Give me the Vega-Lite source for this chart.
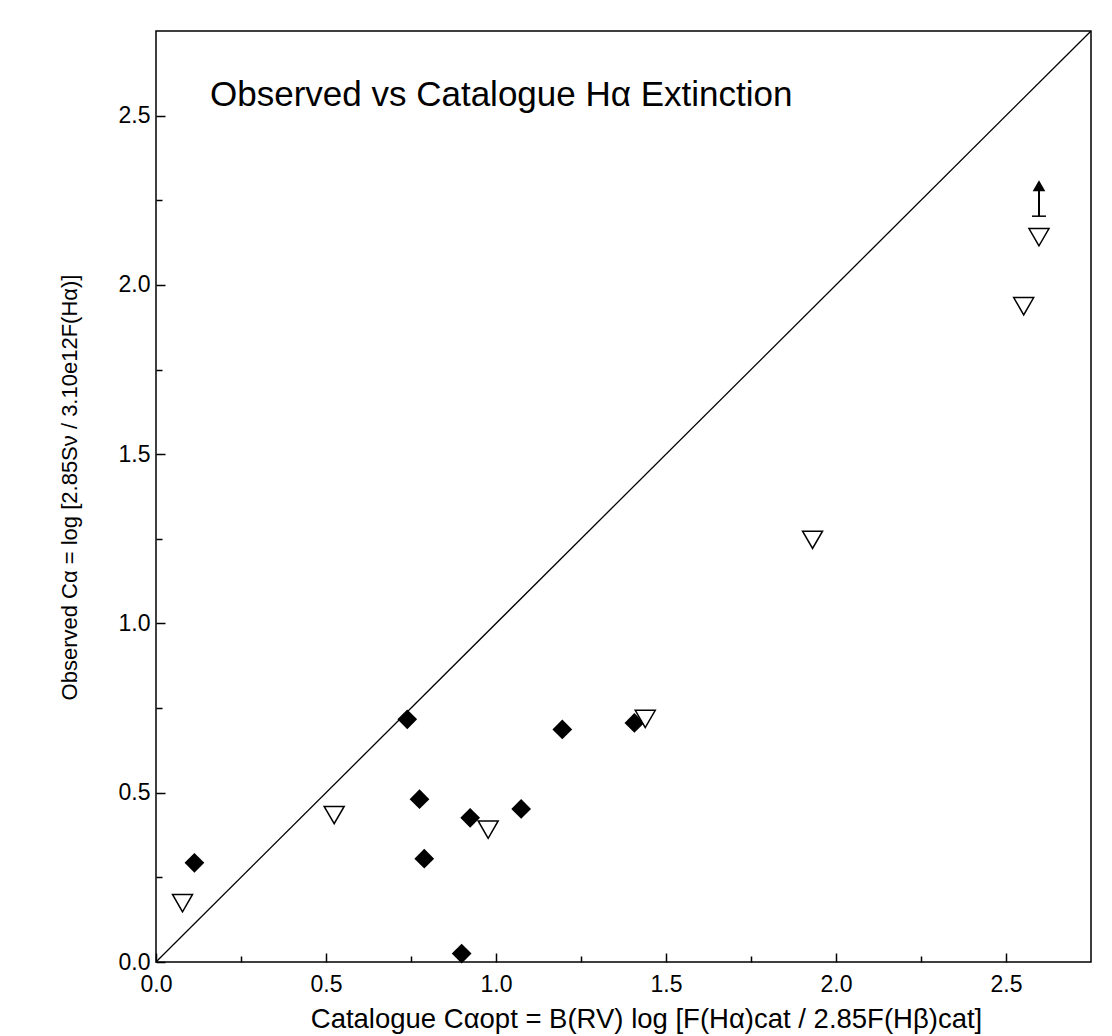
{
  "$schema": "https://vega.github.io/schema/vega-lite/v6.json",
  "width": 935,
  "height": 931,
  "autosize": {"type": "none"},
  "padding": {"left": 156, "top": 31, "right": 21, "bottom": 74},
  "background": "white",
  "title": {
    "text": "Observed vs Catalogue Hα Extinction",
    "anchor": "start",
    "orient": "top",
    "frame": "group",
    "fontSize": 35,
    "fontWeight": "normal",
    "font": "Liberation Sans",
    "color": "black",
    "baseline": "alphabetic",
    "offset": -110,
    "dx": 54
  },
  "config": {
    "font": "Liberation Sans",
    "view": {"stroke": "black", "strokeWidth": 1.5},
    "axis": {
      "domain": false,
      "grid": false,
      "tickColor": "black",
      "tickWidth": 1.5,
      "labelColor": "black",
      "labelFontSize": 23,
      "labelFlush": false,
      "labelOverlap": false,
      "titleColor": "black",
      "titleFontWeight": "normal",
      "tickSize": {"condition": {"test": "round(datum.value*4) % 2 == 0", "value": -9}, "value": -6},
      "labelExpr": "round(datum.value*4) % 2 == 0 ? format(datum.value, '.1f') : ''"
    }
  },
  "datasets": {
    "diagonal": [{"x": 0, "y": 0}, {"x": 2.75, "y": 2.75}],
    "detections": [
      {"x": 0.113, "y": 0.293},
      {"x": 0.739, "y": 0.717},
      {"x": 0.775, "y": 0.481},
      {"x": 0.789, "y": 0.305},
      {"x": 0.899, "y": 0.025},
      {"x": 0.924, "y": 0.426},
      {"x": 1.074, "y": 0.452},
      {"x": 1.195, "y": 0.687},
      {"x": 1.407, "y": 0.706}
    ],
    "upperlimits": [
      {"x": 0.078, "y": 0.174},
      {"x": 0.524, "y": 0.434},
      {"x": 0.977, "y": 0.391},
      {"x": 1.439, "y": 0.718},
      {"x": 1.931, "y": 1.247},
      {"x": 2.552, "y": 1.937},
      {"x": 2.597, "y": 2.141}
    ],
    "lowerlimit": [{"x": 2.597, "y": 2.203, "y_end": 2.278, "y_head": 2.293}]
  },
  "encoding": {
    "x": {
      "field": "x",
      "type": "quantitative",
      "scale": {"domain": [0, 2.75], "nice": false, "zero": false},
      "axis": {
        "values": [0, 0.25, 0.5, 0.75, 1, 1.25, 1.5, 1.75, 2, 2.25, 2.5],
        "labelPadding": 20,
        "title": "Catalogue Cαopt = B(RV) log [F(Hα)cat / 2.85F(Hβ)cat]",
        "titleFontSize": 27.5,
        "titlePadding": 6,
        "titleX": 490
      }
    },
    "y": {
      "field": "y",
      "type": "quantitative",
      "scale": {"domain": [0, 2.75], "nice": false, "zero": false},
      "axis": {
        "values": [0, 0.25, 0.5, 0.75, 1, 1.25, 1.5, 1.75, 2, 2.25, 2.5],
        "labelPadding": 15,
        "title": "Observed Cα = log [2.85Sν / 3.10e12F(Hα)]",
        "titleFontSize": 22,
        "titlePadding": 37,
        "titleY": 456
      }
    }
  },
  "layer": [
    {
      "data": {"name": "diagonal"},
      "mark": {"type": "line", "color": "black", "strokeWidth": 1.3, "clip": true}
    },
    {
      "data": {"name": "lowerlimit"},
      "mark": {"type": "rule", "color": "black", "strokeWidth": 2},
      "encoding": {"y2": {"field": "y_end"}}
    },
    {
      "data": {"name": "lowerlimit"},
      "mark": {"type": "tick", "orient": "horizontal", "color": "black", "size": 14, "thickness": 1.5, "opacity": 1}
    },
    {
      "data": {"name": "lowerlimit"},
      "mark": {"type": "point", "shape": "triangle-up", "filled": true, "color": "black", "size": 160, "opacity": 1},
      "encoding": {"y": {"field": "y_head", "type": "quantitative"}}
    },
    {
      "data": {"name": "detections"},
      "mark": {"type": "point", "shape": "diamond", "filled": true, "color": "black", "size": 390, "opacity": 1}
    },
    {
      "data": {"name": "upperlimits"},
      "mark": {"type": "point", "shape": "triangle-down", "filled": false, "fill": "white", "fillOpacity": 1, "stroke": "black", "strokeWidth": 1.5, "size": 400, "opacity": 1}
    }
  ]
}
